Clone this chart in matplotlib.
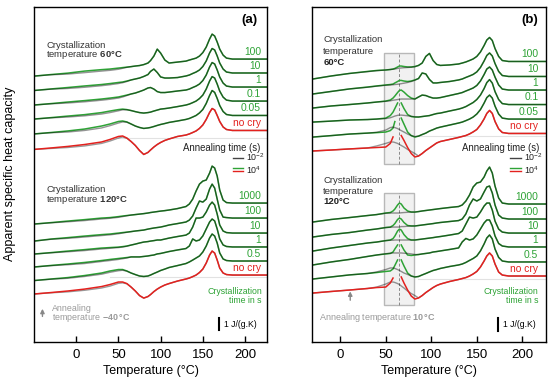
import numpy as np
import matplotlib.pyplot as plt
from matplotlib.patches import Rectangle

plt.rcParams['font.family'] = ['Liberation Sans', 'DejaVu Sans']
plt.rcParams['mathtext.fontset'] = 'custom'
plt.rcParams['mathtext.rm'] = 'Liberation Sans'
plt.rcParams['mathtext.bf'] = 'Liberation Sans:bold'
plt.rcParams['mathtext.it'] = 'Liberation Sans:italic'

# temperature grids (deg C)
temps_a = [-50, -30, -10, 10, 30, 40, 50, 55, 60, 65, 70, 75, 80, 85, 88, 92, 96, 100, 105, 110,
           120, 130, 134, 138, 142, 146, 150, 154, 158, 161, 164, 167, 170, 174, 178, 185, 226]
temps_b = [-30, -10, 10, 30, 40, 50, 55, 58, 60, 63, 65, 67, 70, 74, 78, 82, 86, 90, 94, 98,
           102, 106, 110, 120, 130, 134, 138, 142, 146, 150, 154, 158, 161, 164, 167, 170, 174, 178, 185, 226]
nan = np.nan

labels_60 = ['100', '10', '1', '0.1', '0.05', 'no cry']
labels_120 = ['1000', '100', '10', '1', '0.5', 'no cry']

# apparent cp in J/(g.K), relative to the melt level at 226 C
# panel (a), crystallization at 60 C, annealing 1e4 s
a60_long = [
    [-1.42, -1.29, -1.17, -1.00, -0.88, -0.83, -0.75, -0.71, -0.67, -0.63, -0.58, -0.54, -0.46, -0.33, -0.13, 0.25, 0.83, 0.50, -0.08, -0.33, -0.25, -0.17, -0.08, 0.00, 0.08, 0.25, 0.54, 1.00, 1.67, 2.08, 1.92, 1.42, 0.83, 0.33, 0.08, 0.00, 0.00],
    [-1.46, -1.33, -1.21, -1.08, -0.96, -0.88, -0.79, -0.75, -0.67, -0.58, -0.50, -0.42, -0.29, -0.13, 0.13, 0.33, 0.04, -0.33, -0.42, -0.42, -0.38, -0.25, -0.17, -0.04, 0.08, 0.25, 0.54, 1.00, 1.67, 2.04, 1.92, 1.42, 0.83, 0.33, 0.08, 0.00, 0.00],
    [-1.50, -1.38, -1.25, -1.13, -1.00, -0.92, -0.83, -0.75, -0.67, -0.58, -0.50, -0.38, -0.25, -0.08, -0.04, -0.17, -0.38, -0.46, -0.46, -0.42, -0.33, -0.25, -0.17, -0.04, 0.08, 0.25, 0.54, 1.00, 1.67, 2.04, 1.92, 1.42, 0.83, 0.33, 0.08, 0.00, 0.00],
    [-1.50, -1.38, -1.25, -1.13, -0.96, -0.83, -0.71, -0.67, -0.71, -0.79, -0.88, -0.96, -1.00, -0.96, -0.92, -0.83, -0.75, -0.67, -0.63, -0.58, -0.46, -0.33, -0.25, -0.13, 0.00, 0.21, 0.50, 1.00, 1.67, 2.04, 1.92, 1.42, 0.83, 0.33, 0.08, 0.00, 0.00],
    [-1.54, -1.42, -1.29, -1.13, -0.88, -0.71, -0.50, -0.46, -0.54, -0.71, -0.88, -1.00, -1.08, -1.04, -1.00, -0.92, -0.83, -0.75, -0.67, -0.58, -0.46, -0.33, -0.25, -0.13, 0.00, 0.21, 0.50, 1.00, 1.67, 2.08, 1.92, 1.42, 0.83, 0.33, 0.08, 0.00, 0.00],
    [-1.58, -1.46, -1.33, -1.17, -0.96, -0.75, -0.50, -0.46, -0.63, -0.92, -1.25, -1.67, -2.00, -1.83, -1.63, -1.38, -1.17, -1.00, -0.83, -0.71, -0.50, -0.38, -0.29, -0.17, -0.04, 0.17, 0.46, 0.92, 1.50, 1.83, 1.71, 1.25, 0.75, 0.29, 0.08, 0.00, 0.00],
]
# annealing 1e-2 s, only where it departs from the curve above (-50..60 C)
a60_short = [
    [-1.42, -1.31, -1.25, -1.13, -1.00, -0.94, -0.85, -0.77, -0.69],
    [-1.46, -1.35, -1.29, -1.19, -1.06, -0.98, -0.88, -0.81, -0.71],
    [-1.50, -1.40, -1.33, -1.23, -1.10, -1.02, -0.92, -0.83, -0.71],
    [-1.50, -1.40, -1.33, -1.23, -1.08, -0.96, -0.81, -0.73, -0.73],
    [-1.54, -1.44, -1.38, -1.25, -1.04, -0.85, -0.63, -0.54, -0.56],
    [-1.58, -1.50, -1.42, -1.29, -1.08, -0.88, -0.63, -0.54, -0.65],
]
# panel (a), crystallization at 120 C
a120_long = [
    [-1.75, -1.63, -1.50, -1.38, -1.25, -1.21, -1.13, -1.08, -1.04, -1.00, -0.96, -0.92, -0.88, -0.83, -0.79, -0.75, -0.71, -0.67, -0.63, -0.58, -0.46, -0.29, -0.08, 0.33, 1.00, 1.58, 1.83, 1.92, 2.50, 3.08, 2.92, 2.25, 1.08, 0.25, 0.04, 0.00, 0.00],
    [-1.92, -1.75, -1.63, -1.50, -1.38, -1.33, -1.25, -1.21, -1.17, -1.13, -1.08, -1.04, -1.00, -0.92, -0.88, -0.83, -0.79, -0.75, -0.67, -0.58, -0.46, -0.33, -0.17, 0.17, 0.83, 1.42, 1.33, 1.58, 2.42, 2.83, 2.50, 1.58, 0.67, 0.08, 0.04, 0.00, 0.00],
    [-1.75, -1.63, -1.50, -1.38, -1.25, -1.21, -1.17, -1.13, -1.08, -1.00, -0.92, -0.83, -0.75, -0.71, -0.67, -0.63, -0.58, -0.58, -0.50, -0.42, -0.29, -0.17, 0.00, 0.50, 1.25, 1.25, 1.33, 1.75, 2.33, 2.58, 2.33, 1.58, 0.67, 0.17, 0.04, 0.00, 0.00],
    [-1.67, -1.54, -1.42, -1.29, -1.13, -1.04, -0.96, -0.92, -0.88, -0.83, -0.83, -0.83, -0.79, -0.75, -0.71, -0.67, -0.58, -0.54, -0.46, -0.38, -0.25, -0.13, 0.08, 0.67, 0.50, 0.58, 0.92, 1.50, 2.08, 2.33, 2.17, 1.50, 0.67, 0.17, 0.04, 0.00, 0.00],
    [-1.63, -1.50, -1.38, -1.21, -1.00, -0.83, -0.71, -0.71, -0.83, -1.00, -1.13, -1.25, -1.29, -1.25, -1.17, -1.04, -0.92, -0.79, -0.67, -0.54, -0.38, -0.21, -0.08, 0.08, 0.25, 0.42, 0.75, 1.25, 1.92, 2.25, 2.08, 1.50, 0.67, 0.17, 0.04, 0.00, 0.00],
    [-1.58, -1.46, -1.33, -1.17, -0.96, -0.79, -0.58, -0.58, -0.71, -1.00, -1.33, -1.71, -1.92, -1.79, -1.63, -1.38, -1.17, -1.00, -0.83, -0.71, -0.50, -0.33, -0.25, -0.13, 0.00, 0.21, 0.50, 1.00, 1.67, 2.00, 1.83, 1.25, 0.58, 0.17, 0.04, 0.00, 0.00],
]
a120_short = [
    [-1.75, -1.65, -1.56, -1.46, -1.33, -1.27, -1.19, -1.13, -1.06],
    [-1.92, -1.77, -1.69, -1.58, -1.46, -1.40, -1.31, -1.25, -1.19],
    [-1.75, -1.65, -1.56, -1.46, -1.33, -1.27, -1.21, -1.17, -1.10],
    [-1.67, -1.56, -1.48, -1.38, -1.21, -1.13, -1.04, -0.98, -0.92],
    [-1.63, -1.52, -1.44, -1.29, -1.10, -0.94, -0.81, -0.77, -0.85],
    [-1.58, -1.48, -1.40, -1.27, -1.08, -0.92, -0.69, -0.65, -0.73],
]
# panel (b), crystallization at 60 C, annealing at 10 C for 1e4 s
b60_long = [
    [-1.46, -1.21, -1.00, -0.83, -0.75, -0.71, -0.67, -0.63, -0.58, -0.46, -0.38, -0.38, -0.42, -0.46, -0.46, -0.42, -0.33, -0.13, 0.42, 0.67, 0.08, -0.25, -0.33, -0.29, -0.21, -0.13, -0.04, 0.08, 0.21, 0.42, 0.79, 1.33, 1.79, 2.00, 1.75, 1.08, 0.42, 0.08, 0.00, 0.00],
    [-1.46, -1.25, -1.04, -0.88, -0.79, -0.71, -0.67, -0.63, -0.54, -0.42, -0.33, -0.33, -0.38, -0.42, -0.38, -0.29, -0.17, 0.29, 0.21, -0.25, -0.54, -0.54, -0.50, -0.42, -0.29, -0.21, -0.08, 0.04, 0.17, 0.38, 0.75, 1.29, 1.75, 1.96, 1.71, 1.08, 0.42, 0.08, 0.00, 0.00],
    [-1.50, -1.33, -1.21, -1.08, -1.00, -0.92, -0.83, -0.67, -0.50, -0.21, -0.04, 0.00, -0.17, -0.46, -0.67, -0.75, -0.58, -0.42, -0.46, -0.58, -0.67, -0.67, -0.63, -0.46, -0.29, -0.21, -0.08, 0.04, 0.17, 0.38, 0.75, 1.29, 1.75, 1.92, 1.67, 1.08, 0.42, 0.08, 0.00, 0.00],
    [-1.46, -1.38, -1.29, -1.25, -1.21, -1.13, -0.92, -0.63, -0.33, 0.13, nan, 0.13, -0.33, -0.83, -1.00, -1.04, -1.04, -1.00, -0.96, -0.92, -0.83, -0.75, -0.71, -0.54, -0.38, -0.29, -0.17, 0.00, 0.17, 0.42, 0.79, 1.33, 1.83, 2.08, 1.79, 1.08, 0.42, 0.08, 0.00, 0.00],
    [-1.50, -1.38, -1.25, -1.17, -1.13, -1.08, -0.96, -0.75, -0.21, nan, nan, 0.08, -0.42, -1.08, -1.38, -1.50, -1.42, -1.29, -1.17, -1.00, -0.88, -0.75, -0.67, -0.50, -0.33, -0.25, -0.13, 0.00, 0.17, 0.42, 0.79, 1.33, 1.79, 2.00, 1.75, 1.08, 0.42, 0.08, 0.00, 0.00],
    [-1.46, -1.38, -1.29, -1.21, -1.17, -1.13, -0.83, -0.29, nan, nan, nan, -0.17, -0.58, -1.17, -1.67, -1.96, -1.88, -1.67, -1.42, -1.21, -1.00, -0.79, -0.67, -0.50, -0.33, -0.25, -0.17, -0.04, 0.13, 0.33, 0.71, 1.21, 1.67, 1.92, 1.67, 1.00, 0.38, 0.08, 0.00, 0.00],
]
# annealing 1e-2 s (-30..82 C)
b60_short = [
    [-1.46, -1.21, -1.00, -0.85, -0.77, -0.71, -0.67, -0.65, -0.63, -0.58, -0.56, -0.54, -0.52, -0.50, -0.48, -0.44],
    [-1.46, -1.25, -1.04, -0.90, -0.81, -0.73, -0.71, -0.69, -0.67, -0.65, -0.63, -0.60, -0.56, -0.50, -0.42, -0.31],
    [-1.50, -1.33, -1.21, -1.08, -1.00, -0.94, -0.90, -0.85, -0.83, -0.79, -0.77, -0.75, -0.75, -0.75, -0.75, -0.75],
    [-1.46, -1.38, -1.29, -1.25, -1.21, -1.17, -1.10, -1.02, -0.96, -0.90, -0.88, -0.88, -0.90, -0.94, -0.98, -1.02],
    [-1.50, -1.38, -1.25, -1.17, -1.10, -0.92, -0.71, -0.67, -0.71, -0.79, -0.88, -0.96, -1.08, -1.25, -1.38, -1.46],
    [-1.46, -1.38, -1.29, -1.21, -1.04, -0.83, -0.71, -0.71, -0.75, -0.83, -0.92, -1.00, -1.13, -1.33, -1.50, -1.67],
]
# panel (b), crystallization at 120 C
b120_long = [
    [-1.50, -1.29, -1.13, -0.96, -0.88, -0.75, -0.71, -0.58, -0.42, -0.08, 0.08, 0.00, -0.33, -0.58, -0.67, -0.67, -0.63, -0.58, -0.54, -0.50, -0.46, -0.42, -0.38, -0.29, -0.21, -0.08, 0.25, 0.75, 1.42, 1.75, 1.83, 2.25, 2.75, 3.08, 2.58, 1.50, 0.50, 0.08, 0.00, 0.00],
    [-1.50, -1.29, -1.13, -0.92, -0.83, -0.71, -0.67, -0.54, -0.38, -0.04, 0.08, 0.00, -0.29, -0.54, -0.58, -0.58, -0.54, -0.50, -0.46, -0.42, -0.38, -0.33, -0.29, -0.21, -0.13, 0.00, 0.42, 1.17, 1.67, 1.50, 1.67, 2.25, 2.67, 2.75, 2.17, 1.17, 0.33, 0.08, 0.00, 0.00],
    [-1.50, -1.25, -1.04, -0.83, -0.75, -0.63, -0.58, -0.46, -0.25, 0.17, 0.33, 0.25, -0.13, -0.46, -0.58, -0.58, -0.54, -0.50, -0.46, -0.42, -0.38, -0.33, -0.29, -0.17, -0.04, 0.17, 0.75, 1.33, 1.25, 1.33, 1.75, 2.25, 2.50, 2.50, 1.92, 1.00, 0.33, 0.08, 0.00, 0.00],
    [-1.50, -1.25, -1.04, -0.79, -0.67, -0.58, -0.54, -0.42, -0.17, 0.17, nan, 0.17, -0.25, -0.67, -0.71, -0.67, -0.63, -0.58, -0.54, -0.50, -0.42, -0.38, -0.33, -0.21, -0.08, 0.42, 0.71, 0.58, 0.67, 1.00, 1.50, 2.00, 2.25, 2.25, 1.75, 0.92, 0.29, 0.08, 0.00, 0.00],
    [-1.42, -1.25, -1.08, -0.96, -0.88, -0.79, -0.75, -0.58, -0.29, 0.17, nan, 0.17, -0.33, -0.92, -1.17, -1.25, -1.21, -1.08, -0.96, -0.83, -0.71, -0.63, -0.54, -0.38, -0.25, -0.17, -0.04, 0.13, 0.29, 0.50, 0.92, 1.50, 2.00, 2.25, 1.92, 1.08, 0.38, 0.08, 0.00, 0.00],
    [-1.42, -1.29, -1.17, -1.04, -0.96, -0.92, -0.58, -0.17, nan, nan, nan, -0.08, -0.58, -1.17, -1.67, -1.92, -1.83, -1.63, -1.38, -1.17, -0.96, -0.79, -0.67, -0.46, -0.29, -0.21, -0.13, 0.00, 0.17, 0.38, 0.75, 1.25, 1.67, 1.92, 1.67, 1.00, 0.33, 0.08, 0.00, 0.00],
]
b120_short = [
    [-1.50, -1.29, -1.13, -0.96, -0.88, -0.77, -0.75, -0.75, -0.75, -0.75, -0.75, -0.73, -0.71, -0.69, -0.67, -0.67],
    [-1.50, -1.29, -1.13, -0.92, -0.83, -0.71, -0.69, -0.67, -0.67, -0.67, -0.67, -0.63, -0.63, -0.60, -0.58, -0.58],
    [-1.50, -1.25, -1.04, -0.83, -0.75, -0.63, -0.60, -0.60, -0.58, -0.58, -0.58, -0.58, -0.58, -0.58, -0.58, -0.58],
    [-1.50, -1.25, -1.04, -0.79, -0.67, -0.56, -0.52, -0.50, -0.50, -0.50, -0.50, -0.50, -0.52, -0.54, -0.58, -0.63],
    [-1.42, -1.25, -1.08, -0.96, -0.83, -0.63, -0.50, -0.50, -0.54, -0.63, -0.71, -0.79, -0.92, -1.04, -1.17, -1.25],
    [-1.42, -1.29, -1.17, -1.04, -0.92, -0.67, -0.50, -0.50, -0.54, -0.63, -0.71, -0.83, -1.00, -1.25, -1.46, -1.63],
]

# vertical shift of each curve (J/(g.K))
shift_a60 = [23.58, 22.42, 21.25, 20.08, 18.88, 17.63]
shift_a120 = [11.58, 10.33, 9.08, 7.92, 6.75, 5.58]
shift_b60 = [23.38, 22.13, 21.00, 19.79, 18.58, 17.38]
shift_b120 = [11.50, 10.25, 9.08, 7.92, 6.67, 5.50]

GREEN = '#2ea336'
RED = '#e3211e'
GREY_TXT = '#9a9a9a'
FS = 6.8


def draw_group(ax, temps, long_c, short_c, shifts, labels, x_lab):
    t = np.array(temps)
    for cl, cs, sh, name in zip(long_c, short_c, shifts, labels):
        cl = np.array(cl, dtype=float)
        cref = np.concatenate([cs, cl[len(cs):]])
        if name == 'no cry':
            ax.plot(t, cref + sh, color='black', alpha=0.4, lw=1.0)
            ax.plot(t, cl + sh, color=RED, lw=1.1)
            col = RED
        else:
            ax.plot(t, cl + sh, color=GREEN, lw=1.1)
            ax.plot(t, cref + sh, color='black', alpha=0.42, lw=1.0)
            col = GREEN
        ax.text(x_lab, sh + 0.6, name, color=col, ha='right', va='center', fontsize=7.4)


def annealing_legend(ax, x0, x1):
    ax.text(x1 + 21, 16.2, 'Annealing time (s)', ha='right', va='center', fontsize=6.9, color='#222')
    ax.plot([x0, x1], [15.3, 15.3], color='#444', lw=1.0)
    ax.plot([x0, x1], [14.5, 14.5], color=GREEN, lw=1.0)
    ax.plot([x0, x1], [14.28, 14.28], color=RED, lw=1.0)
    ax.text(x1 + 4, 15.42, r'10$^{-2}$', va='center', fontsize=6.4, color='#222')
    ax.text(x1 + 4, 14.3, r'10$^{4}$', va='center', fontsize=6.4, color='#222')


def style_axes(ax, xlim):
    ax.set_xlim(*xlim)
    ax.set_ylim(0, 27.92)
    ax.set_yticks([])
    ax.set_xticks([0, 50, 100, 150, 200])
    ax.tick_params(axis='x', direction='in', length=4, width=1, labelsize=9.5, pad=5)
    for s in ax.spines.values():
        s.set_linewidth(1.0)
    ax.set_xlabel('Temperature (°C)', fontsize=9, labelpad=3)


fig = plt.figure(figsize=(5.5, 3.83), dpi=100)
ax_a = fig.add_axes([34 / 550, 41 / 383, 233 / 550, 335 / 383])
ax_b = fig.add_axes([312 / 550, 41 / 383, 234 / 550, 335 / 383])

# ---- panel (a)
ax = ax_a
ax.plot([50, 226], [17.04, 17.04], color='#e2e2e2', lw=0.8)
ax.plot([40, 226], [5.42, 5.42], color='#e2e2e2', lw=0.8)
draw_group(ax, temps_a, a60_long, a60_short, shift_a60, labels_60, 219)
draw_group(ax, temps_a, a120_long, a120_short, shift_a120, labels_120, 219)
ax.text(215, 26.83, '(a)', ha='right', va='center', fontsize=9.5, fontweight='bold')
ax.text(-35.5, 24.75, 'Crystallization', fontsize=FS, va='center', color='#333')
ax.text(-35.5, 23.88, r'temperature $\mathbf{60°C}$', fontsize=FS, va='center', color='#333')
ax.text(-35.5, 12.67, 'Crystallization', fontsize=FS, va='center', color='#333')
ax.text(-35.5, 11.8, r'temperature $\mathbf{120°C}$', fontsize=FS, va='center', color='#333')
annealing_legend(ax, 186, 197)
ax.text(220, 4.17, 'Crystallization', color=GREEN, ha='right', va='center', fontsize=6.3)
ax.text(220, 3.42, 'time in s', color=GREEN, ha='right', va='center', fontsize=6.3)
ax.annotate('', xy=(-40, 3.0), xytext=(-40, 1.9),
            arrowprops=dict(arrowstyle='-|>', color='#888', lw=1.0, mutation_scale=6))
ax.text(-28.5, 2.83, 'Annealing', color=GREY_TXT, va='center', fontsize=6.4)
ax.text(-28.5, 2.0, r'temperature $\mathbf{-40\,°C}$', color=GREY_TXT, va='center', fontsize=6.4)
ax.plot([169, 169], [1.0, 2.0], color='black', lw=1.5)
ax.text(175, 1.5, '1 J/(g.K)', va='center', fontsize=6.2)
style_axes(ax, (-50, 226))

# ---- panel (b)
ax = ax_b
ax.add_patch(Rectangle((48.4, 14.83), 32.9, 9.25, facecolor='#f1f1f1', edgecolor='#b8b8b8', lw=1.0, zorder=0))
ax.add_patch(Rectangle((48.4, 3.08), 32.9, 9.34, facecolor='#f1f1f1', edgecolor='#b8b8b8', lw=1.0, zorder=0))
ax.plot([65, 65], [14.83, 24.08], color='#888', lw=0.7, ls=(0, (3, 2)), zorder=0.5)
ax.plot([65, 65], [3.08, 12.42], color='#888', lw=0.7, ls=(0, (3, 2)), zorder=0.5)
ax.plot([80, 226], [17.13, 17.13], color='#e2e2e2', lw=0.8)
ax.plot([85, 226], [5.25, 5.25], color='#e2e2e2', lw=0.8)
draw_group(ax, temps_b, b60_long, b60_short, shift_b60, labels_60, 217.6)
draw_group(ax, temps_b, b120_long, b120_short, shift_b120, labels_120, 217.6)
ax.text(217.6, 26.83, '(b)', ha='right', va='center', fontsize=9.5, fontweight='bold')
ax.text(-18.7, 25.17, 'Crystallization', fontsize=FS, va='center', color='#333')
ax.text(-18.7, 24.25, 'temperature', fontsize=FS, va='center', color='#333')
ax.text(-18.7, 23.33, '60°C', fontsize=FS, va='center', fontweight='bold', color='#222')
ax.text(-18.7, 13.5, 'Crystallization', fontsize=FS, va='center', color='#333')
ax.text(-18.7, 12.58, 'temperature', fontsize=FS, va='center', color='#333')
ax.text(-18.7, 11.67, '120°C', fontsize=FS, va='center', fontweight='bold', color='#222')
annealing_legend(ax, 187, 198)
ax.text(217.6, 4.17, 'Crystallization', color=GREEN, ha='right', va='center', fontsize=6.3)
ax.text(217.6, 3.42, 'time in s', color=GREEN, ha='right', va='center', fontsize=6.3)
ax.annotate('', xy=(11, 4.45), xytext=(11, 3.25),
            arrowprops=dict(arrowstyle='-|>', color='#888', lw=1.0, mutation_scale=6))
ax.text(-23, 2.08, r'Annealing temperature $\mathbf{10\,°C}$', color=GREY_TXT, va='center', fontsize=6.5)
ax.plot([173.6, 173.6], [0.95, 2.0], color='black', lw=1.5)
ax.text(179, 1.5, '1 J/(g.K)', va='center', fontsize=6.2)
style_axes(ax, (-31, 226))

fig.text(10 / 550, 1 - 174 / 383, 'Apparent specific heat capacity', rotation=90,
         ha='center', va='center', fontsize=9)

fig.savefig('out.png', dpi=100)
